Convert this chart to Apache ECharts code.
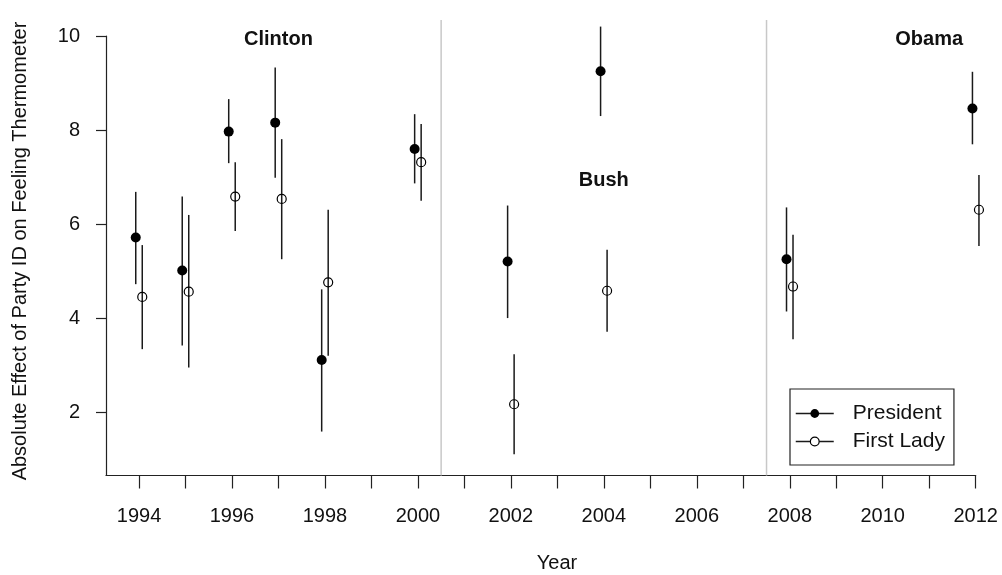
<!DOCTYPE html>
<html>
<head>
<meta charset="utf-8">
<script src="https://cdn.jsdelivr.net/npm/echarts@6/dist/echarts.min.js"></script>
<style>
html,body{margin:0;padding:0;background:#fff;}
#chart{width:1002px;height:575px;}
</style>
</head>
<body>
<div id="chart"></div>
<script>
// ---- data ----
const years = [1994, 1995, 1996, 1997, 1998, 2000, 2002, 2004, 2008, 2012];
const presVal  = [5.72, 5.02, 7.97, 8.16, 3.12, 7.60, 5.21, 9.25, 5.26, 8.46];
const presLow  = [4.73, 3.43, 7.30, 6.99, 1.60, 6.87, 4.01, 8.30, 4.15, 7.70];
const presHigh = [6.69, 6.59, 8.66, 9.33, 4.62, 8.34, 6.40, 10.20, 6.36, 9.24];
const flVal    = [4.46, 4.57, 6.59, 6.54, 4.77, 7.32, 2.18, 4.59, 4.68, 6.31];
const flLow    = [3.35, 2.96, 5.86, 5.26, 3.21, 6.50, 1.12, 3.72, 3.56, 5.54];
const flHigh   = [5.56, 6.20, 7.32, 7.81, 6.31, 8.13, 3.24, 5.46, 5.78, 7.05];
const dividers = [2000.5, 2007.5];
const presidents = ['Clinton', 'Bush', 'Obama'];
const presLabelX = [1997, 2004, 2011];
const presLabelY = [10, 7, 10];
const xTicks = [1994,1995,1996,1997,1998,1999,2000,2001,2002,2003,2004,2005,2006,2007,2008,2009,2010,2011,2012];
const xLabels = [1994,1996,1998,2000,2002,2004,2006,2008,2010,2012];
const yTicks = [2, 4, 6, 8, 10];
const seriesNames = ['President', 'First Lady'];
const xTitle = 'Year';
const yTitle = 'Absolute Effect of Party ID on Feeling Thermometer';

// ---- chart ----
const FONT = '"Liberation Sans", Arial, sans-serif';
const dodge = 0.07;
const X_MIN = 1993.29, X_MAX = 2012, Y_MIN = 0.667, Y_MAX = 10, Y_TOP = 10.34;

const presPts = years.map((y, i) => [y - dodge, presVal[i]]);
const flPts = years.map((y, i) => [y + dodge, flVal[i]]);
const presBars = years.map((y, i) => [y - dodge, presLow[i], presHigh[i]]);
const flBars = years.map((y, i) => [y + dodge, flLow[i], flHigh[i]]);
const labelData = presidents.map((n, i) => [presLabelX[i], presLabelY[i], n]);

function errRender(params, api) {
  const x = api.value(0);
  const a = api.coord([x, api.value(1)]);
  const b = api.coord([x, api.value(2)]);
  return {type: 'line', shape: {x1: a[0], y1: a[1], x2: b[0], y2: b[1]},
          style: {stroke: '#1a1a1a', lineWidth: 1.5}};
}

const chart = echarts.init(document.getElementById('chart'), null, {renderer: 'canvas'});
chart.setOption({
  animation: false,
  backgroundColor: '#fff',
  grid: {left: 106, right: 26.3, top: 36, bottom: 99.5, containLabel: false},
  xAxis: {
    type: 'value', min: X_MIN, max: X_MAX,
    splitLine: {show: false},
    axisLine: {show: true, lineStyle: {color: '#222', width: 1.2}},
    axisTick: {show: true, length: 13, lineStyle: {color: '#222', width: 1.2}, customValues: xTicks},
    axisLabel: {show: true, customValues: xLabels, margin: 31, fontSize: 20, color: '#111', fontFamily: FONT,
                formatter: v => String(v)}
  },
  yAxis: {
    type: 'value', min: Y_MIN, max: Y_MAX,
    splitLine: {show: false},
    axisLine: {show: true, lineStyle: {color: '#222', width: 1.2}},
    axisTick: {show: true, length: 10, lineStyle: {color: '#222', width: 1.2}, customValues: yTicks},
    axisLabel: {show: true, customValues: yTicks, margin: 26, fontSize: 20, color: '#111', fontFamily: FONT,
                formatter: v => String(v)}
  },
  legend: {
    left: 790, top: 389, orient: 'vertical',
    selectedMode: false,
    padding: [14, 9, 13, 5],
    itemGap: 7,
    itemWidth: 38, itemHeight: 11,
    borderColor: '#222', borderWidth: 1.2, borderRadius: 0,
    backgroundColor: '#fff',
    lineStyle: {width: 1.5, color: '#1a1a1a', opacity: 1, type: 'solid'},
    textStyle: {fontSize: 21, color: '#111', fontFamily: FONT, padding: [0, 0, 0, 14]},
    data: [
      {name: seriesNames[0], itemStyle: {color: '#000'}},
      {name: seriesNames[1], itemStyle: {color: '#fff', borderColor: '#000', borderWidth: 1.2}}
    ]
  },
  graphic: [
    {type: 'text', x: 557, y: 563, style: {text: xTitle, fill: '#111', font: '20px ' + FONT, align: 'center', verticalAlign: 'middle'}},
    {type: 'text', x: 20, y: 251, rotation: Math.PI / 2, style: {text: yTitle, fill: '#111', font: '20px ' + FONT, align: 'center', verticalAlign: 'middle'}}
  ],
  series: [
    {
      type: 'custom', name: 'dividers', clip: false, silent: true, z: 1,
      data: dividers.map(d => [d]),
      renderItem: (params, api) => {
        const x = api.value(0);
        const a = api.coord([x, Y_MIN]);
        const b = api.coord([x, Y_TOP]);
        return {type: 'line', shape: {x1: a[0], y1: a[1], x2: b[0], y2: b[1]}, style: {stroke: '#c8c8c8', lineWidth: 1.5}};
      }
    },
    {
      type: 'custom', name: 'labels', clip: false, silent: true, z: 2,
      data: labelData,
      renderItem: (params, api) => {
        const p = api.coord([api.value(0), api.value(1)]);
        return {type: 'text', x: p[0], y: p[1] + 3,
                style: {text: labelData[params.dataIndex][2], font: 'bold 20px ' + FONT, fill: '#111', align: 'center', verticalAlign: 'middle'}};
      }
    },
    {type: 'custom', name: 'presErr', clip: false, silent: true, z: 3, data: presBars, renderItem: errRender},
    {type: 'custom', name: 'flErr', clip: false, silent: true, z: 3, data: flBars, renderItem: errRender},
    {
      type: 'line', name: seriesNames[0], data: presPts, clip: false, z: 5, silent: true,
      symbol: 'circle', symbolSize: 10, showSymbol: true,
      itemStyle: {color: '#000'},
      lineStyle: {width: 0, opacity: 0},
      emphasis: {disabled: true}
    },
    {
      type: 'line', name: seriesNames[1], data: flPts, clip: false, z: 5, silent: true,
      symbol: 'circle', symbolSize: 9, showSymbol: true,
      itemStyle: {color: 'rgba(0,0,0,0)', borderColor: '#000', borderWidth: 1.2},
      lineStyle: {width: 0, opacity: 0},
      emphasis: {disabled: true}
    }
  ]
});
</script>
</body>
</html>
